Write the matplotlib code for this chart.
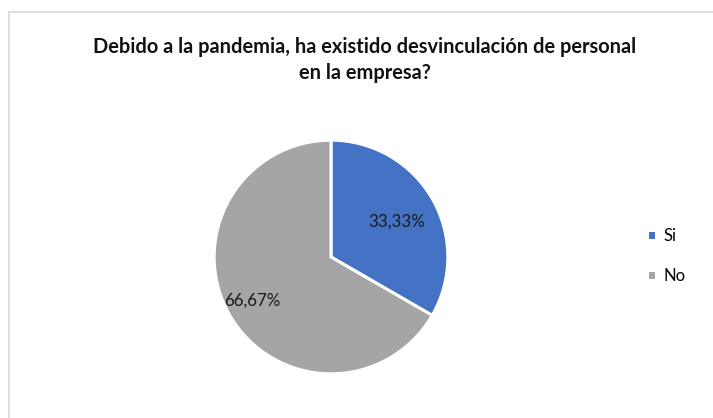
import matplotlib.pyplot as plt
import matplotlib.patches as mpatches
import numpy as np

# datos de la encuesta
categorias = ['Si', 'No']
porcentajes = [33.33, 66.67]
colores = ['#4472C4', '#A5A5A5']

plt.rcParams['font.family'] = ['Lato', 'DejaVu Sans']

fig = plt.figure(figsize=(7.13, 4.18), dpi=100)

# marco del gráfico
fig.patches.append(mpatches.Rectangle((9 / 713, -0.05), 1.05, 1 - 12 / 418 + 0.05,
                                      transform=fig.transFigure, fill=False,
                                      edgecolor='#D9D9D9', linewidth=1.2))

fig.text(0.512, 1 - 60 / 418, 'Debido a la pandemia, ha existido desvinculación de personal\nen la empresa?',
         ha='center', va='center', fontsize=14.4, fontweight='bold', linespacing=1.38,
         color='#111111')

ax = fig.add_axes([213 / 713, 43 / 418, 236 / 713, 236 / 418])
wedges, textos, autotextos = ax.pie(porcentajes, colors=colores, startangle=90, counterclock=False,
                                    autopct=lambda p: f'{p:.2f}%'.replace('.', ','),
                                    wedgeprops=dict(edgecolor='white', linewidth=2.2),
                                    textprops=dict(fontsize=12.2, color='#1a1a1a'))
ax.set_xlim(-1.01, 1.01)
ax.set_ylim(-1.01, 1.01)
ax.set_aspect('equal')

# posiciones de las etiquetas de porcentaje
for t, dist in zip(autotextos, [0.65, 0.78]):
    x, y = t.get_position()
    r = np.hypot(x, y)
    t.set_position((x / r * dist, y / r * dist - (0.02 if dist < 0.7 else -0.02)))

leg = fig.legend(wedges, categorias, loc='center left', bbox_to_anchor=(0.887, 1 - 256 / 418),
                 frameon=False, fontsize=12, handlelength=0.5, handleheight=0.5,
                 handletextpad=0.45, labelspacing=1.45)

fig.savefig('out.png', dpi=100)
